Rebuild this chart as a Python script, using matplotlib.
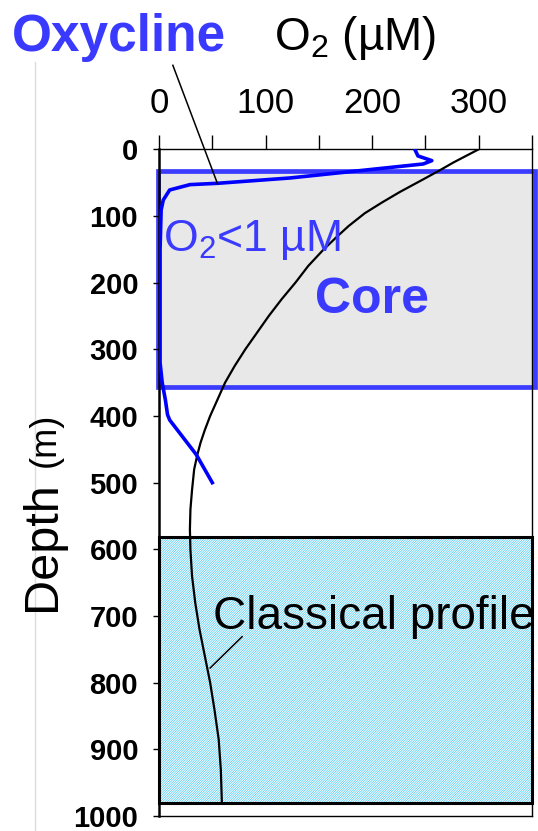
import matplotlib
matplotlib.use("Agg")
import matplotlib.pyplot as plt
from matplotlib.patches import Rectangle
from matplotlib.lines import Line2D

plt.rcParams['font.family'] = ['Liberation Sans', 'DejaVu Sans']
plt.rcParams['mathtext.fontset'] = 'custom'
plt.rcParams['mathtext.rm'] = 'Liberation Sans'
plt.rcParams['mathtext.it'] = 'Liberation Sans'
plt.rcParams['hatch.linewidth'] = 0.45

# perfil OMZ medido (O2 en uM vs profundidad en m)
omz_o2 = [240, 243, 256, 248, 123, 55, 29, 10, 4, 2, 1, 1, 3, 6, 8, 10, 35, 50]
omz_depth = [0, 10, 17, 22, 43, 51, 53, 61, 76, 91, 150, 320, 350, 376, 398, 406, 458, 500]

# perfil clasico
clas_o2 = [300, 288, 276, 264, 248, 226, 209, 193, 178, 167, 154, 140, 128, 115,
           103, 92, 81, 71, 62, 55, 48, 43, 39, 36, 33, 31, 29.5, 29, 29.5, 31,
           34, 38, 43, 48, 52, 56, 58, 59]
clas_depth = [0, 10, 20, 31, 45, 64, 80, 96, 115, 131, 151, 175, 200, 225,
              250, 275, 300, 325, 350, 375, 400, 421, 440, 458, 480, 511, 540, 570, 601, 640,
              680, 720, 760, 800, 840, 885, 930, 980]

x_ticks = [0, 50, 100, 150, 200, 250, 300, 350]
x_labels = ['0', '', '100', '', '200', '', '300', '']
y_ticks = [0, 100, 200, 300, 400, 500, 600, 700, 800, 900, 1000]

core_top, core_bottom = 33, 356
deep_top, deep_bottom = 581, 980

fig = plt.figure(figsize=(5.38, 8.31), dpi=100)
ax = fig.add_axes([159 / 538, 15 / 831, (532 - 159) / 538, (816 - 149.3) / 831])

ax.set_xlim(0, 350)
ax.set_ylim(1000, 0)

# nucleo de la OMZ
ax.add_patch(Rectangle((-1, core_top), 354, core_bottom - core_top,
                       facecolor='#e8e8e8', edgecolor='#3c3cff', linewidth=3.4,
                       clip_on=False, zorder=1))
# zona profunda: rayado celeste + borde negro
ax.add_patch(Rectangle((0, deep_top), 350, deep_bottom - deep_top,
                       facecolor='white', edgecolor='#3cc4f0', linewidth=0,
                       hatch='/' * 14, clip_on=False, zorder=1))
ax.add_patch(Rectangle((0, deep_top), 350, deep_bottom - deep_top,
                       facecolor='none', edgecolor='black', linewidth=2.2,
                       clip_on=False, zorder=2))

ax.plot(clas_o2, clas_depth, color='black', linewidth=1.6, zorder=3)
ax.plot(omz_o2, omz_depth, color='#0000ff', linewidth=2.6, zorder=4,
        solid_joinstyle='round')

# lineas de referencia para las etiquetas
ax.plot([13, 55], [-126, 52], color='black', linewidth=1.1, clip_on=False, zorder=5)
ax.plot([78, 48], [731, 778], color='black', linewidth=1.1, zorder=5)

ax.text(-38, -167, 'Oxycline', color='#3a3aff', fontsize=37, fontweight='bold',
        ha='center', va='center', clip_on=False)
ax.text(184, -167, r'O$_2$ (µM)', color='black', fontsize=33,
        ha='center', va='center', clip_on=False)
ax.text(4, 136, r'O$_2$<1 µM', color='#3a3aff', fontsize=32,
        ha='left', va='center', zorder=6)
ax.text(200, 226, 'Core', color='#3a3aff', fontsize=36, fontweight='bold',
        ha='center', va='center', zorder=6)
ax.text(51, 701, 'Classical profile', color='black', fontsize=33,
        ha='left', va='center', zorder=6)

ax.xaxis.tick_top()
ax.set_xticks(x_ticks)
ax.set_xticklabels(x_labels, fontsize=25)
ax.tick_params(axis='x', direction='out', length=10, width=1, pad=11)
ax.set_yticks(y_ticks)
ax.set_yticklabels([str(v) for v in y_ticks], fontsize=21, fontweight='bold')
ax.tick_params(axis='y', direction='out', length=4, width=1, pad=11)

for side in ['top', 'right', 'bottom']:
    ax.spines[side].set_linewidth(1.0)
ax.spines['left'].set_linewidth(1.8)

fig.text(65 / 538, 1 - 546 / 831, 'Depth', fontsize=35, rotation=90,
         ha='right', va='center')
fig.text(63 / 538, 1 - 440 / 831, '(m)', fontsize=26, rotation=90,
         ha='right', va='center')

fig.add_artist(Line2D([35 / 538, 35 / 538], [1 - 62 / 831, 0], color='#dcdcdc',
                      linewidth=1.0, transform=fig.transFigure))

fig.savefig('out.png', dpi=100)
